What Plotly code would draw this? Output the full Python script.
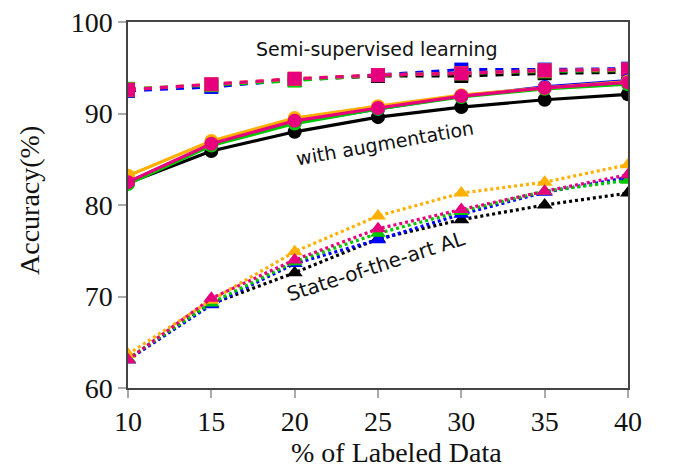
import plotly.graph_objects as go

x = [10, 15, 20, 25, 30, 35, 40]
methods = ["Baseline", "Method B", "Method C", "Method D", "Ours"]
colors = {"Baseline": "#000000", "Method B": "#0000FF", "Method C": "#00C800",
          "Method D": "#FFB000", "Ours": "#E6007E"}

# Semi-supervised learning (squares, dashed)
semi = {
    "Baseline": [92.5, 93.1, 93.7, 94.1, 94.1, 94.4, 94.5],
    "Method B": [92.5, 92.9, 93.7, 94.2, 94.8, 94.8, 94.9],
    "Method C": [92.7, 93.1, 93.6, 94.2, 94.4, 94.6, 94.7],
    "Method D": [92.6, 93.2, 93.8, 94.2, 94.4, 94.7, 94.8],
    "Ours":     [92.6, 93.2, 93.8, 94.2, 94.4, 94.7, 94.8],
}
# With augmentation (circles, solid)
aug = {
    "Baseline": [82.4, 85.9, 88.0, 89.6, 90.7, 91.5, 92.1],
    "Method B": [82.5, 86.6, 89.0, 90.5, 91.9, 92.9, 93.6],
    "Method C": [82.3, 86.5, 88.9, 90.5, 91.8, 92.7, 93.2],
    "Method D": [83.2, 87.0, 89.5, 90.8, 92.0, 92.8, 93.5],
    "Ours":     [82.5, 86.7, 89.2, 90.6, 91.9, 92.8, 93.4],
}
# State-of-the-art AL (triangles, dotted)
al = {
    "Baseline": [63.1, 69.2, 72.6, 76.3, 78.4, 80.0, 81.3],
    "Method B": [63.1, 69.1, 73.6, 76.2, 79.0, 81.4, 83.0],
    "Method C": [63.2, 69.3, 73.8, 76.9, 79.3, 81.5, 82.7],
    "Method D": [63.7, 69.6, 74.9, 78.8, 81.3, 82.5, 84.4],
    "Ours":     [63.1, 69.8, 74.0, 77.4, 79.5, 81.5, 83.3],
}

fig = go.Figure()

for m in methods:
    fig.add_trace(go.Scatter(x=x, y=al[m], mode="lines+markers",
                             line=dict(color=colors[m], width=3.2, dash="3px,3px"),
                             marker=dict(symbol="triangle-up", size=14, color=colors[m]),
                             showlegend=False))
for m in methods:
    fig.add_trace(go.Scatter(x=x, y=semi[m], mode="lines+markers",
                             line=dict(color=colors[m], width=3.2, dash="8px,8px"),
                             marker=dict(symbol="square", size=14, color=colors[m]),
                             showlegend=False))
for m in methods:
    fig.add_trace(go.Scatter(x=x, y=aug[m], mode="lines+markers",
                             line=dict(color=colors[m], width=3.2),
                             marker=dict(symbol="circle", size=14, color=colors[m]),
                             showlegend=False))

fig.add_annotation(x=24.95, y=97.0, text="Semi-supervised learning", showarrow=False,
                   font=dict(family="DejaVu Sans", size=19, color="#111"))
fig.add_annotation(x=25.4, y=86.8, text="with augmentation", showarrow=False,
                   font=dict(family="DejaVu Sans", size=19, color="#111"), textangle=-10)
fig.add_annotation(x=24.9, y=73.3, text="State-of-the-art AL", showarrow=False,
                   font=dict(family="DejaVu Sans", size=20, color="#111"), textangle=-18)

title_font = dict(family="Liberation Serif", size=28, color="#111")
fig.add_annotation(xref="paper", yref="paper", x=0.536, y=-0.176, text="% of Labeled Data",
                   showarrow=False, font=title_font, xanchor="center", yanchor="middle")
fig.add_annotation(xref="paper", yref="paper", x=-0.196, y=0.511, text="Accuracy(%)",
                   showarrow=False, font=title_font, textangle=-90,
                   xanchor="center", yanchor="middle")

axis_common = dict(showgrid=False, zeroline=False, showline=True, linecolor="#444", linewidth=1.5,
                   mirror=True, ticks="outside", ticklen=8, tickcolor="#aaa", tickwidth=1.5,
                   automargin=False,
                   tickfont=dict(family="Liberation Serif", size=28, color="#111"))

fig.update_xaxes(range=[10, 40], tickvals=x, **axis_common)
fig.update_yaxes(range=[60, 100], tickvals=[60, 70, 80, 90, 100], **axis_common)

fig.update_layout(width=676, height=467, margin=dict(l=128, r=48, t=22, b=79),
                  plot_bgcolor="white", paper_bgcolor="white")

fig.write_html("out.html")
